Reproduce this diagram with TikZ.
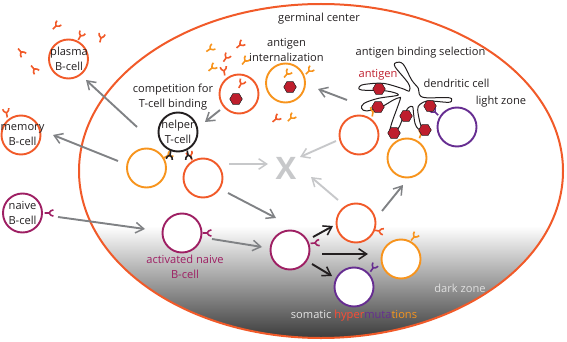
\documentclass[tikz,border=0pt]{standalone}
\usepackage{fontspec}
\setmainfont{Open Sans}
\usetikzlibrary{arrows.meta,shapes.geometric}
\definecolor{cred}{HTML}{F15A29}
\definecolor{corange}{HTML}{F7941D}
\definecolor{cpurple}{HTML}{662D91}
\definecolor{cmagenta}{HTML}{9E1F63}
\definecolor{cgray}{HTML}{808285}
\definecolor{clight}{HTML}{C7C8CA}
\definecolor{cantigen}{HTML}{BE1E2D}
\definecolor{ctext}{HTML}{231F20}
\definecolor{chyper}{HTML}{FF4B33}
\tikzset{
  cell/.style={circle,draw=#1,line width=1.9pt,fill=white,minimum size=39pt,inner sep=0pt},
  lab/.style={font=\fontsize{11.1}{15}\selectfont,text=ctext,align=center,inner sep=0pt},
  flow/.style={line width=1.9pt,draw=cgray,-{Straight Barb[length=8pt,width=10.5pt,line width=1.5pt]}},
  flowlight/.style={flow,draw=clight},
  flowdark/.style={flow,draw=ctext},
  antibody/.style={line width=1.6pt,line cap=butt},
  hexa/.style={regular polygon,regular polygon sides=6,draw=ctext,line width=.5pt,fill=cantigen,minimum size=12.5pt,inner sep=0pt}
}
% antibody: junction x, junction y, screen angle of the fork, colour
\newcommand{\antibody}[4]{\draw[antibody,draw=#4,shift={(#1,#2)},rotate=#3] (-4.5,0) -- (0,0) (4.4,3.1) .. controls (2,2.6) .. (0,0) .. controls (2,-2.6) .. (4.4,-3.1);}
\begin{document}
\begin{tikzpicture}[x=1pt,y=-1pt]
\useasboundingbox (0,0) rectangle (567,342);
% germinal centre with dark zone gradient
\begin{scope}
  \clip (321,171) ellipse [x radius=242,y radius=167];
  \shade[top color=white,bottom color=black!78] (0,226) rectangle (567,340);
\end{scope}
\node[ellipse,draw=cred,line width=2pt,minimum width=484pt,minimum height=334pt,inner sep=0pt] (gc) at (321,171) {};

% flow arrows, drawn between named end points
\coordinate (p1) at (137,127); \coordinate (p2) at (86,80);
\coordinate (m1) at (118,161); \coordinate (m2) at (53,135);
\coordinate (n1) at (58,217);  \coordinate (n2) at (145,229);
\coordinate (a1) at (212,239); \coordinate (a2) at (262,247);
\coordinate (b1) at (228,193); \coordinate (b2) at (276,218);
\coordinate (c1) at (229,164); \coordinate (c2) at (268,164);
\coordinate (d1) at (338,200); \coordinate (d2) at (311,177);
\coordinate (e1) at (336,141); \coordinate (e2) at (300,157);
\coordinate (f1) at (347,100); \coordinate (f2) at (318,89);
\coordinate (g1) at (220,110); \coordinate (g2) at (205,122);
\coordinate (h1) at (382,211); \coordinate (h2) at (403,185);
\coordinate (i1) at (313,237); \coordinate (i2) at (333,226);
\coordinate (j1) at (322,254); \coordinate (j2) at (368,254);
\coordinate (k1) at (312,264); \coordinate (k2) at (332,276);
\draw[flow] (p1) -- (p2);
\draw[flow] (m1) -- (m2);
\draw[flow] (n1) -- (n2);
\draw[flow] (a1) -- (a2);
\draw[flow] (b1) -- (b2);
\draw[flowlight] (c1) -- (c2);
\draw[flowlight] (d1) -- (d2);
\draw[flowlight] (e1) -- (e2);
\draw[flow] (f1) -- (f2);
\draw[flow] (g1) -- (g2);
\draw[flow] (h1) -- (h2);
\draw[flowdark] (i1) -- (i2);
\draw[flowdark] (j1) -- (j2);
\draw[flowdark] (k1) -- (k2);

% dendritic cell outline
\begin{scope}[shift={(350,55)},x=.3333pt,y=-.3333pt]
  \draw[ctext,line width=1pt,line join=round,fill=white] plot[smooth cycle,tension=.55] coordinates {
    (140,22) (160,28) (185,75) (205,100) (208,118) (225,128) (295,128) (305,135) (295,142)
    (235,138) (210,148) (203,165) (212,210) (222,225) (205,222) (195,205) (190,170) (188,155)
    (175,158) (160,185) (145,220) (120,235) (125,205) (150,135) (148,128) (130,135) (95,155)
    (50,168) (35,160) (42,145) (85,130) (145,120) (110,108) (35,105) (28,95) (45,88) (100,85)
    (155,100) (178,108) (175,85) (135,35)};
\end{scope}

% antibodies carried by the cells and free in solution
\antibody{80.5}{36}{60}{cred}
\antibody{56}{26}{45}{cred}
\antibody{101}{38}{75}{cred}
\antibody{21}{52}{-50}{cred}
\antibody{34}{69}{-50}{cred}
\antibody{6.5}{113}{100}{cred}
\antibody{49}{213}{0}{cmagenta}
\antibody{207}{233}{0}{cmagenta}
\antibody{315}{243}{5}{cmagenta}
\antibody{379}{231}{-10}{cred}
\antibody{414}{237}{50}{corange}
\antibody{373}{268}{55}{cpurple}
\antibody{373}{112}{80}{corange}
\antibody{421}{134}{70}{corange}
\antibody{435}{112}{135}{cpurple}
\antibody{224}{71}{100}{cred}
\antibody{309}{71}{45}{corange}
\antibody{210}{49}{35}{corange}
\antibody{212}{68}{40}{corange}
\antibody{240}{45}{40}{cred}
\antibody{226}{58}{55}{cred}
\antibody{245}{61}{50}{corange}
\antibody{276}{119}{40}{cred}
\antibody{291}{118}{45}{corange}
\antibody{168}{155.5}{30}{corange}
\antibody{190.5}{156}{110}{cred}

% B cells and the helper T cell
\node[cell=cred] (plasma) at (68.5,59) {};
\node[cell=cred] (memory) at (21,135) {};
\node[cell=cmagenta] (naive) at (22.5,213) {};
\node[cell=ctext] (helper) at (178,132) {};
\node[cell=corange] (compA) at (146.5,168) {};
\node[cell=cred] (compB) at (203,178) {};
\node[cell=cmagenta] (activated) at (182,233) {};
\node[cell=cmagenta] (mut) at (290,250) {};
\node[cell=cred] (mutA) at (356,223) {};
\node[cell=corange] (mutB) at (401,259) {};
\node[cell=cpurple] (mutC) at (354,287) {};
\node[cell=cred] (selA) at (359,135) {};
\node[cell=corange] (selB) at (407,158) {};
\node[cell=cpurple] (selC) at (457,127) {};
\node[cell=cred] (intA) at (239,94) {};
\node[cell=corange] (intB) at (285.5,83) {};

% T-cell receptors docked on the two competing B cells
\antibody{170}{155}{-100}{ctext}
\antibody{188}{155}{-80}{ctext}

% inner antibodies
\antibody{241}{84}{60}{cred}
\antibody{287}{74}{50}{corange}

% antigens
\node[hexa] (agA) at (236,99) {};
\node[hexa] (agB) at (290,87) {};
\node[hexa] (agC) at (379,89) {};
\node[hexa] (agD) at (378,107) {};
\node[hexa] (agE) at (406,116) {};
\node[hexa] (agF) at (394,133) {};
\node[hexa] (agG) at (425,130) {};
\node[hexa] (agH) at (430,106) {};

% labels
\node[lab] (tgc) at (319,19) {germinal center};
\node[lab] (tplasma) at (69,59) {plasma\\B-cell};
\node[lab] (tmemory) at (22.5,135) {memory\\B-cell};
\node[lab] (tnaive) at (22.5,213) {naive\\B-cell};
\node[lab] (thelper) at (178,132) {helper\\T-cell};
\node[lab] (tcomp) at (173,97.5) {competition for\\T-cell binding};
\node[lab] (tint) at (286.5,50) {antigen\\internalization};
\node[lab] (tsel) at (420.5,53) {antigen binding selection};
\node[lab,text=cantigen] (tag) at (378,75) {antigen};
\node[lab] (tden) at (456.5,83) {dendritic cell};
\node[lab] (tlight) at (501,102) {light zone};
\node[lab,text=white!88!black] (tdark) at (460,288) {dark zone};
\node[lab,text=cmagenta] (tact) at (185,266.5) {activated naive\\B-cell};
\node[lab,text=white!90!black] (tsom) at (354,316) {somatic {\color{chyper}hyper}{\color{cpurple}muta}{\color{corange}tions}};
\node[font=\fontsize{31}{31}\selectfont\bfseries,text=clight,inner sep=0pt] (tx) at (286,168) {X};
\end{tikzpicture}
\end{document}
